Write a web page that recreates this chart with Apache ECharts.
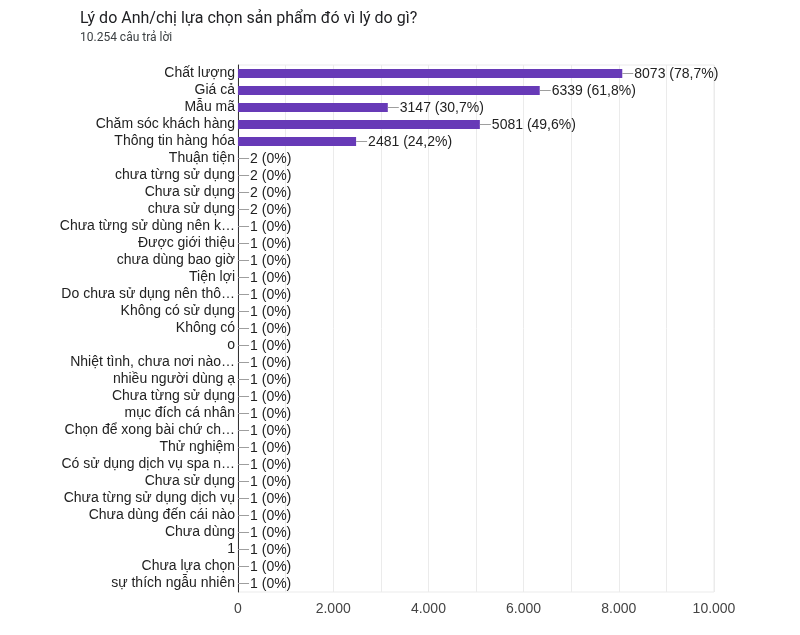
<!DOCTYPE html>
<html>
<head>
<meta charset="utf-8">
<script src="https://cdn.jsdelivr.net/npm/echarts@6/dist/echarts.min.js"></script>
<style>html,body{margin:0;padding:0;background:#fff}#c{width:800px;height:635px}</style>
</head>
<body>
<div id="c"></div>
<script>
const titleText = 'Lý do Anh/chị lựa chọn sản phẩm đó vì lý do gì?';
const subtitleText = '10.254 câu trả lời';
const totalResponses = 10254;
const categories = [
  'Chất lượng', 'Giá cả', 'Mẫu mã', 'Chăm sóc khách hàng', 'Thông tin hàng hóa',
  'Thuận tiện', 'chưa từng sử dụng', 'Chưa sử dụng', 'chưa sử dụng',
  'Chưa từng sử dùng nên k…', 'Được giới thiệu', 'chưa dùng bao giờ', 'Tiện lợi',
  'Do chưa sử dụng nên thô…', 'Không có sử dụng', 'Không có', 'o',
  'Nhiệt tình, chưa nơi nào…', 'nhiều người dùng ạ', 'Chưa từng sử dụng',
  'mục đích cá nhân', 'Chọn để xong bài chứ ch…', 'Thử nghiệm',
  'Có sử dụng dịch vụ spa n…', 'Chưa sử dụng', 'Chưa từng sử dụng dịch vụ',
  'Chưa dùng đến cái nào', 'Chưa dùng', '1', 'Chưa lựa chọn', 'sự thích ngẫu nhiên'
];
const values = [
  8073, 6339, 3147, 5081, 2481,
  2, 2, 2, 2,
  1, 1, 1, 1, 1, 1, 1, 1, 1, 1, 1, 1, 1, 1, 1, 1, 1, 1, 1, 1, 1, 1
];
const xTickValues = [0, 2000, 4000, 6000, 8000, 10000];

function fmtThousands(v) {
  return String(v).replace(/\B(?=(\d{3})+(?!\d))/g, '.');
}
function fmtPct(v) {
  const p = Math.round(v / totalResponses * 1000) / 10;
  return String(p).replace('.', ',') + '%';
}

const chart = echarts.init(document.getElementById('c'));
const FONT = '"Liberation Sans", Arial, sans-serif';
const labelData = values.map(function (v, i) { return [v, i]; });

chart.setOption({
  animation: false,
  title: {
    text: titleText,
    subtext: subtitleText,
    left: 75,
    top: 6,
    itemGap: 5,
    textStyle: { fontFamily: 'Roboto, sans-serif', fontSize: 16, fontWeight: 'normal', color: '#202124' },
    subtextStyle: { fontFamily: 'Roboto, sans-serif', fontSize: 12, color: '#3c4043' }
  },
  grid: {
    left: 238, right: 86, top: 65, bottom: 43,
    show: true, borderColor: '#ebebeb', borderWidth: 1,
    containLabel: false
  },
  xAxis: {
    type: 'value',
    min: 0, max: 10000, interval: 1000,
    axisLine: { show: false },
    axisTick: { show: false },
    splitLine: { show: true, lineStyle: { color: '#ebebeb', width: 1 } },
    axisLabel: {
      margin: 10,
      fontFamily: FONT, fontSize: 14, color: '#444',
      formatter: function (v) { return xTickValues.indexOf(v) >= 0 ? fmtThousands(v) : ''; }
    }
  },
  yAxis: {
    type: 'category',
    inverse: true,
    data: categories,
    axisLine: { show: true, lineStyle: { color: '#333', width: 1 } },
    axisTick: { show: false },
    splitLine: { show: false },
    axisLabel: { margin: 3, fontFamily: FONT, fontSize: 14, color: '#222', interval: 0 }
  },
  series: [{
    type: 'bar',
    data: values,
    barWidth: 9,
    itemStyle: { color: '#673ab7' },
    z: 2
  }, {
    type: 'custom',
    data: labelData,
    encode: { x: 0, y: 1 },
    z: 3,
    renderItem: function (params, api) {
      const v = api.value(0);
      const pt = api.coord([v, api.value(1)]);
      const x = pt[0];
      const y = Math.floor(pt[1]) + 0.5;
      return {
        type: 'group',
        children: [{
          type: 'line',
          shape: { x1: x, y1: y, x2: x + 11, y2: y },
          style: { stroke: '#9e9e9e', lineWidth: 1 }
        }, {
          type: 'text',
          style: {
            x: x + 12, y: y + 0.5,
            text: v + ' (' + fmtPct(v) + ')',
            fill: '#222',
            font: '14px ' + FONT,
            align: 'left',
            verticalAlign: 'middle'
          }
        }]
      };
    }
  }]
});
</script>
</body>
</html>
